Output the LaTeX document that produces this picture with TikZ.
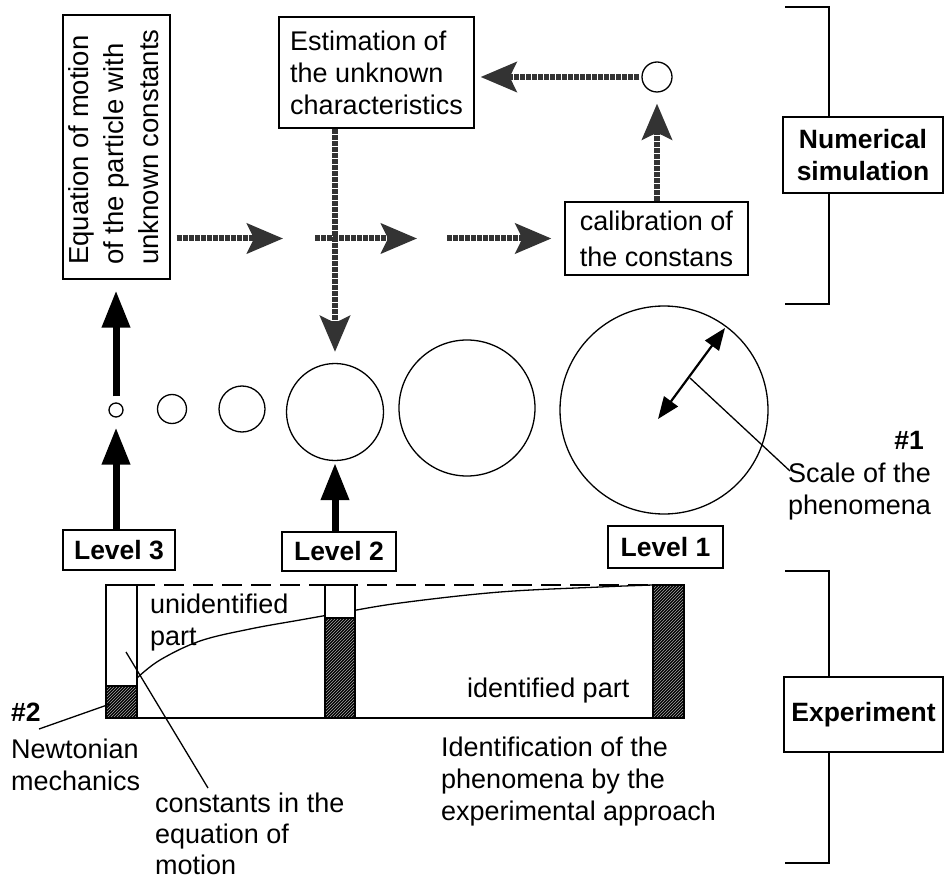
\documentclass[tikz,border=0pt]{standalone}
\usepackage{fontspec}
\setmainfont{Liberation Sans}
\usetikzlibrary{arrows.meta,patterns}
\newcommand\mytxt{\fontsize{27}{32}\selectfont}
\newcommand\mybold{\bfseries\fontsize{26.5}{32}\selectfont}
\begin{document}
\begin{tikzpicture}[x=1pt,y=-1pt,
  box/.style={draw, line width=1.3pt, inner sep=0pt, font=\mytxt},
  lvl/.style={draw, line width=1.5pt, inner sep=0pt, font=\mybold},
  ring/.style={draw, circle, line width=1.3pt, inner sep=0pt},
  lbl/.style={inner sep=0pt, align=left, font=\mytxt},
  harrow/.style={line width=6pt, draw=black!80, dash pattern=on 5pt off 1pt,
     -{Stealth[length=36pt,width=30pt,inset=7pt,fill=black!80]}},
  barrow/.style={line width=7pt, -{Triangle[length=37pt,width=27pt]}},
  darrow/.style={line width=2.2pt, {Triangle[length=22pt,width=17pt]}-{Triangle[length=22pt,width=17pt]}},
  leader/.style={line width=1.3pt},
  hatchbar/.style={fill=black, postaction={pattern=north east lines, pattern color=black!35}}
]
\useasboundingbox (0,0) rectangle (944,882);

% ---------- top boxes ----------
\node[box, minimum width=107pt, minimum height=264pt] (eq) at (116.5,147)
  {\rotatebox{90}{\fontsize{27.5}{35}\selectfont\begin{tabular}{@{}l@{}}Equation of motion\\of the particle with\\unknown constants\end{tabular}}};
\node[box, minimum width=195pt, minimum height=111pt, align=left] (est) at (376.5,72.5)
  {Estimation of\\the unknown\\characteristics};
\node[box, minimum width=183pt, minimum height=73pt, align=center, font=\fontsize{27}{36}\selectfont] (cal) at (656.5,238.5)
  {calibration of\\the constans};
\node[ring, minimum size=30pt] (sc) at (657,77) {};

% ---------- right brackets ----------
\node[box, font=\mybold, minimum width=160pt, minimum height=76pt, align=center] (num) at (863,155)
  {Numerical\\simulation};
\node[box, font=\mybold, minimum width=159pt, minimum height=75pt] (exp) at (863.5,714.5) {Experiment};
\coordinate (bt) at (829,7);
\coordinate (bb) at (829,304);
\draw[leader] (785,7) -- (bt) -- (bt |- num.north);
\draw[leader] (bb |- num.south) -- (bb) -- (785,304);
\coordinate (et) at (829,571);
\coordinate (eb) at (829,863);
\draw[leader] (785,571) -- (et) -- (et |- exp.north);
\draw[leader] (eb |- exp.south) -- (eb) -- (785,863);

% ---------- circles ----------
\node[ring, minimum size=14pt] (c1) at (116,410) {};
\node[ring, minimum size=29pt] (c2) at (172,409) {};
\node[ring, minimum size=46pt] (c3) at (242,409) {};
\node[ring, minimum size=97pt] (c4) at (335,412) {};
\node[ring, minimum size=136pt] (c5) at (467,408) {};
\node[ring, minimum size=208pt] (c6) at (664,410) {};

% ---------- levels ----------
\node[lvl, minimum width=112pt, minimum height=40pt] (lv3) at (119,550) {Level 3};
\node[lvl, minimum width=114pt, minimum height=39pt] (lv2) at (339,551.5) {Level 2};
\node[lvl, minimum width=115pt, minimum height=42pt] (lv1) at (665.5,547) {Level 1};

% ---------- hatched arrows ----------
\draw[harrow, shorten <=2pt, shorten >=6pt] (sc.west) -- (sc.west -| est.east);
\draw[harrow, shorten >=11pt] (sc.south |- cal.north) -- (sc.south);
\draw[harrow, shorten >=11pt] (c4.north |- est.south) -- (c4.north);
\coordinate (h1) at (283,238.5);
\coordinate (h2s) at (315,238.5);
\coordinate (h2e) at (417,238.5);
\coordinate (h3s) at (447,238.5);
\draw[harrow, shorten <=6pt] (eq.east |- cal.west) -- (h1);
\draw[harrow] (h2s) -- (h2e);
\draw[harrow, shorten >=13pt] (h3s) -- (cal.west);

% ---------- black arrows ----------
\draw[barrow, shorten >=10pt] (lv3.north -| c1.south) -- (c1.south);
\draw[barrow, shorten <=6pt, shorten >=11pt] (c1.north) -- (c1.north |- eq.south);
\draw[barrow, shorten >=2pt] (lv2.north -| c4.south) -- (c4.south);

% ---------- scale arrow ----------
\coordinate (dA) at (658,419);
\coordinate (dB) at (725,328);
\draw[darrow] (dA) -- (dB);
\node[lbl, anchor=west] (scale) at (788,492) {Scale of the\\phenomena};
\node[inner sep=0pt, font=\mybold, anchor=east] (n1) at (924,440) {\#1};
\coordinate (lA) at (690,378);
\coordinate (lB) at (790,471);
\draw[leader] (lA) -- (lB);

% ---------- experiment part ----------
\draw[leader] plot[smooth, tension=0.6] coordinates
  {(137,678) (160,660) (200,641) (250,629) (300,620) (340,613) (400,603) (500,592) (600,587) (653,585)};
\draw[leader, dashed, dash pattern=on 20pt off 9pt] (106,585) -- (653,585);
\draw[leader] (106,718) -- (684,718);
% bar 1
\fill[white] (106,585) rectangle (137,686);
\path[hatchbar] (106,686) rectangle (137,718);
\draw[leader] (106,585) rectangle (137,718);
\draw[leader] (106,686) -- (137,686);
% bar 2
\fill[white] (325,585) rectangle (355,618);
\path[hatchbar] (325,618) rectangle (355,718);
\draw[leader] (325,585) rectangle (355,718);
\draw[leader] (325,618) -- (355,618);
% bar 3
\path[hatchbar] (653,585) rectangle (684,718);
\draw[leader] (653,585) rectangle (684,718);

\node[lbl, anchor=west] (unid) at (150,623) {unidentified\\part};
\node[lbl, anchor=west] (idp) at (467,691) {identified part};
\node[inner sep=0pt, font=\mybold, anchor=west] (n2) at (11,712) {\#2};
\node[lbl, anchor=west] (newt) at (11,765) {Newtonian\\mechanics};
\node[lbl, anchor=west, font=\fontsize{27}{31}\selectfont] (const) at (155,834) {constants in the\\equation of\\motion};
\node[lbl, anchor=west] (ident) at (441,782) {Identification of the\\phenomena by the\\experimental approach};

\coordinate (nA) at (39,729);
\coordinate (nB) at (110,704);
\draw[leader] (nA) -- (nB);
\coordinate (kA) at (126,652);
\coordinate (kB) at (208,788);
\draw[leader] (kA) -- (kB);
\end{tikzpicture}
\end{document}
